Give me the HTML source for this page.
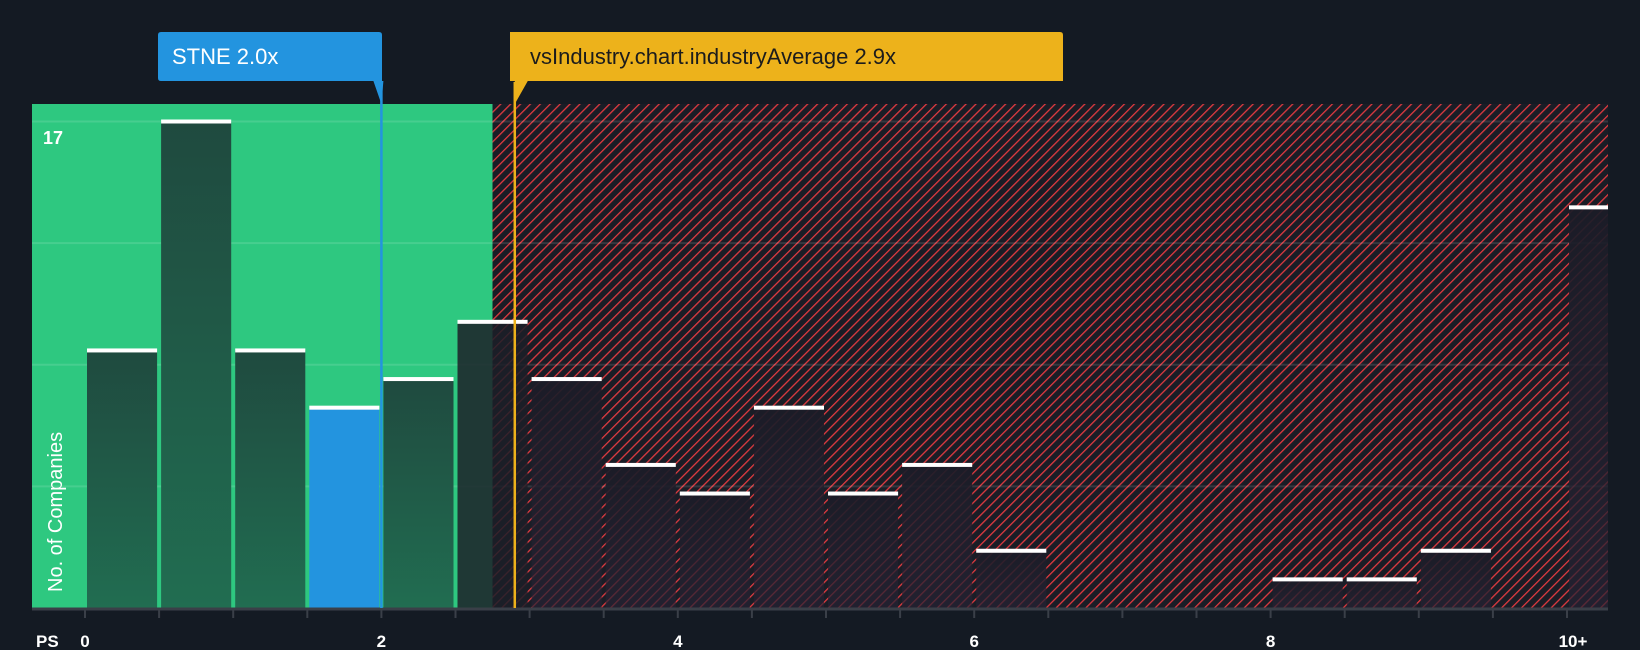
<!DOCTYPE html>
<html><head><meta charset="utf-8"><style>
body{margin:0;background:#141a23;}
svg{display:block;font-family:"Liberation Sans",sans-serif;}
</style></head><body>
<svg id="chart" width="1640" height="650" viewBox="0 0 1640 650">
<defs>
<pattern id="hatch" patternUnits="userSpaceOnUse" width="7" height="7" patternTransform="rotate(45)">
<rect width="7" height="7" fill="#1a1d26"/>
<line x1="0" y1="0" x2="0" y2="7" stroke="#e03a40" stroke-width="2.6"/>
</pattern>
<linearGradient id="gbar" x1="0" y1="0" x2="0" y2="1">
<stop offset="0" stop-color="#1f4a3f"/><stop offset="1" stop-color="#216d51"/>
</linearGradient>
<linearGradient id="dbar" x1="0" y1="0" x2="0" y2="1">
<stop offset="0" stop-color="#1b1c27" stop-opacity="0.93"/><stop offset="1" stop-color="#262233" stop-opacity="0.7"/>
</linearGradient>
</defs>
<g id="bg"></g>
<g id="grid"></g>
<g id="bars"></g>
<g id="axis"></g>
<g id="markers"></g>
</svg>
<script>
const binStarts = [0,0.5,1,1.5,2,2.5,3,3.5,4,4.5,5,5.5,6,6.5,7,7.5,8,8.5,9,9.5,10];
const counts = [9,17,9,7,8,10,8,5,4,7,4,5,2,0,0,0,1,1,2,0,14];
const xTicks = [0,2,4,6,8,10];
const xTickLabels = ["0","2","4","6","8","10+"];
const companyValue = 2.0;
const industryValue = 2.9;
const fairLimit = 2.75;
const yMax = 17;

const NS="http://www.w3.org/2000/svg";
const L=32,R=1608,T=104,B=608,X0=85,U=148.2;
const xs=v=>X0+v*U;
const ys=v=>B-v/yMax*(B-121.5);
function mk(tag,attrs,parent){const e=document.createElementNS(NS,tag);for(const k in attrs)e.setAttribute(k,attrs[k]);parent.appendChild(e);return e;}
const bg=document.getElementById('bg'),grid=document.getElementById('grid'),bars=document.getElementById('bars'),axis=document.getElementById('axis'),mk2=document.getElementById('markers');

let r=mk('rect',{x:L,y:T,width:xs(fairLimit)-L,height:B-T,fill:'#2ec880'},bg);


r=mk('rect',{x:xs(fairLimit),y:T,width:R-xs(fairLimit),height:B-T,fill:'url(#hatch)'},bg);



[yMax,yMax*0.75,yMax*0.5,yMax*0.25].forEach(v=>{
 const g=mk('line',{x1:L,x2:R,y1:ys(v),y2:ys(v),stroke:'rgba(255,255,255,0.12)','stroke-width':2},grid);
 
 
});

binStarts.forEach((s,i)=>{
 const c=counts[i]; if(!c)return;
 const x1=xs(s)+2, x2=(s>=10?R:xs(s+0.5)-2);
 const y=ys(c);
 const inGreen = s+0.5<=fairLimit+0.01;
 const isSel = (s===1.5);
 let fill = isSel?'#2394df':(inGreen?'url(#gbar)':'url(#dbar)');
 if(!inGreen && s<fairLimit) fill='rgba(28,30,40,0.85)';
 const b=mk('rect',{x:x1,y:y,width:x2-x1,height:B-y,fill:fill},bars);
 
 
 const cap=mk('rect',{x:x1,y:y-2,width:x2-x1,height:4,fill:'#ffffff'},bars);
 
 
});

let t=mk('text',{x:43,y:144,fill:'#fff','font-size':18,'font-weight':'bold'},axis);t.textContent='17';


t=mk('text',{x:0,y:0,fill:'#fff','font-size':20,transform:'translate(62,592) rotate(-90)'},axis);t.textContent='No. of Companies';


let a=mk('line',{x1:L,x2:R,y1:B+1,y2:B+1,stroke:'#3a3f48','stroke-width':3},axis);


for(let v=0;v<=10;v+=0.5){
 const tk=mk('line',{x1:xs(v),x2:xs(v),y1:B,y2:B+10,stroke:'#3a3f48','stroke-width':2},axis);
 
 
}
xTicks.forEach((v,i)=>{
 const tl=mk('text',{x:xs(v)+(i===5?6:0),y:647,fill:'#fff','font-size':17,'font-weight':'bold','text-anchor':'middle'},axis);
 tl.textContent=xTickLabels[i];
 
 
});
t=mk('text',{x:36,y:647,fill:'#fff','font-size':17,'font-weight':'bold'},axis);t.textContent='PS';



function marker(v,color,lineColor,bx1,bx2,label,name){
 const x=xs(v);
 const ln=mk('line',{x1:x,x2:x,y1:T-22,y2:B,stroke:lineColor,'stroke-width':2.5},mk2);
 
 
 const box=mk('path',{d:`M${bx1+3},32 H${bx2-3} Q${bx2},32 ${bx2},35 V81 H${x+2} L${x},${T} L${x-8},81 H${bx1+3} Q${bx1},81 ${bx1},78 V35 Q${bx1},32 ${bx1+3},32 Z`,fill:color},mk2);
 if(x-bx1<20) box.setAttribute('d',`M${bx1},32 H${bx2-3} Q${bx2},32 ${bx2},35 V81 H${x+13} L${x},${T} L${x},81 H${bx1} Z`);
 
 
 const tx=mk('text',{x:bx1+(bx1>400?20:14),y:64,fill:bx1>400?'#1c1c1c':'#fff','font-size':22},mk2);
 tx.textContent=label;
 
 
}
marker(companyValue,'#2394df','#2394df',158,382,'STNE 2.0x','company');
marker(industryValue,'#edb21b','#edb21b',510,1063,'vsIndustry.chart.industryAverage 2.9x','industry');
</script>
</body></html>
